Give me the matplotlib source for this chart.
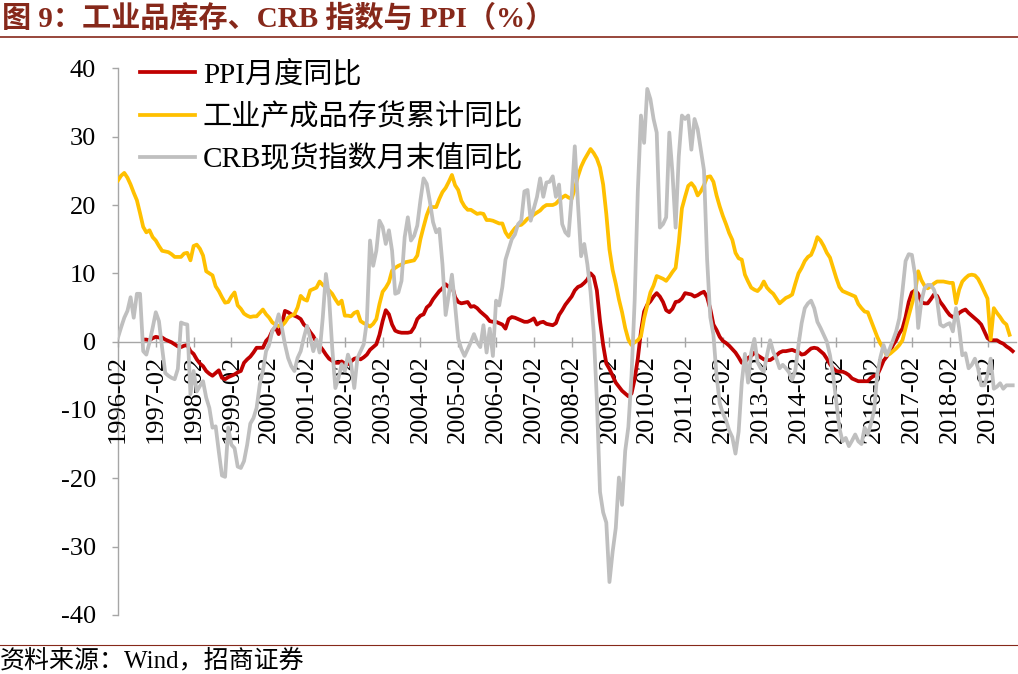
import numpy as np
import matplotlib
matplotlib.use('Agg')
import matplotlib.pyplot as plt
from matplotlib.lines import Line2D

plt.rcParams['font.family'] = ['Liberation Serif', 'Noto Sans CJK SC', 'DejaVu Sans']
plt.rcParams['axes.unicode_minus'] = False

# ---- data: monthly, starting 1996-02 ----
START_YEAR = 1996
nan = np.nan

# PPI 月度同比 (%)
ppi = [
    nan, nan, nan, nan, nan, nan, nan, nan, 0.3, 0.3, 0.2, 0.5,
    0.7, 0.6, 0.6, 0.3, 0.1, -0.1, -0.4, -0.7, -0.8, -0.6, -0.5, -1.4,
    -1.8, -2.6, -3.2, -3.6, -4.3, -4.7, -5.0, -4.6, -4.2, -5.3, -5.5, -5.2,
    -5.0, -4.8, -4.5, -4.3, -3.1, -2.6, -2.2, -1.6, -0.9, -0.9, -0.9, 0.1,
    0.6, 1.6, 2.1, 1.1, 2.5, 4.5, 4.3, 4.0, 3.8, 3.6, 3.3, 2.5,
    2.1, 1.4, 0.8, -0.1, -0.6, -1.2, -1.9, -2.5, -2.8, -3.1, -3.1, -2.9,
    -3.2, -3.3, -2.9, -2.5, -2.4, -2.6, -2.3, -1.9, -1.2, -0.8, -0.4, 1.0,
    3.0, 4.6, 4.0, 2.5, 1.6, 1.4, 1.3, 1.3, 1.3, 1.4, 2.1, 3.3,
    3.8, 4.0, 5.0, 5.4, 6.2, 6.8, 7.4, 7.8, 8.4, 8.0, 8.3, 6.5,
    5.8, 5.6, 5.7, 5.8, 5.1, 5.2, 4.9, 4.4, 4.0, 3.6, 3.0, 2.9,
    2.9, 2.7, 2.5, 1.9, 3.3, 3.6, 3.5, 3.3, 3.1, 2.9, 2.9, 3.1,
    3.4, 2.5, 2.8, 2.9, 2.6, 2.5, 2.4, 2.7, 3.9, 4.6, 5.4, 6.0,
    6.6, 7.5, 8.0, 8.2, 8.6, 9.1, 10.0, 9.5, 7.5, 3.0, -0.5, -3.2,
    -4.0, -5.0, -6.0, -6.6, -7.2, -7.6, -8.0, -7.6, -5.5, -2.5, 1.5, 4.4,
    5.4, 5.9, 6.6, 7.1, 6.6, 5.8, 4.6, 4.3, 4.8, 5.8, 5.9, 6.3,
    7.1, 7.0, 6.9, 6.6, 6.8, 7.1, 7.3, 6.5, 4.8, 2.5, 1.7, 0.7,
    0.1, -0.2, -0.6, -1.1, -1.6, -2.3, -3.1, -3.0, -2.4, -2.1, -1.6, -2.0,
    -2.3, -2.6, -2.7, -2.7, -2.4, -2.0, -1.6, -1.4, -1.4, -1.3, -1.2, -1.4,
    -1.5, -1.9, -1.8, -1.4, -1.0, -0.9, -1.0, -1.4, -1.8, -2.5, -3.3, -3.9,
    -4.3, -4.4, -4.4, -4.6, -4.9, -5.4, -5.6, -5.8, -5.8, -5.8, -5.8, -5.3,
    -5.0, -4.9, -3.9, -2.8, -2.2, -1.5, -0.5, 0.2, 1.2, 1.9, 3.6, 5.8,
    7.2, 7.5, 7.0, 5.8, 5.6, 5.6, 6.2, 6.9, 6.7, 5.8, 5.2, 4.5,
    3.9, 3.6, 3.7, 4.2, 4.5, 4.7, 4.2, 3.8, 3.4, 3.0, 2.5, 1.5,
    0.5, 0.2, 0.2, 0.2, -0.1, -0.3, -0.7, -1.0, -1.4,
]

# 工业产成品存货累计同比 (%)
inventory = [
    23.6, 24.3, 24.7, 24.0, 23.0, 21.8, 20.7, 18.8, 16.8, 16.0, 16.3, 15.3,
    14.8, 14.0, 13.3, 13.2, 13.1, 12.8, 12.4, 12.4, 12.4, 12.9, 13.0, 11.9,
    14.0, 14.2, 13.6, 12.6, 10.3, 10.0, 9.7, 8.1, 7.4, 6.5, 5.7, 5.8,
    6.6, 7.2, 5.3, 4.8, 4.1, 3.8, 3.6, 3.7, 3.7, 4.2, 4.7, 4.0,
    3.5, 2.8, 2.5, 2.3, 2.3, 2.8, 3.5, 3.8, 4.0, 5.0, 6.7, 6.2,
    6.0, 7.5, 7.7, 7.9, 8.8, 8.3, 7.9, 7.5, 7.0, 6.2, 5.5, 6.0,
    3.8, 3.8, 3.7, 4.2, 4.4, 3.0, 2.7, 2.5, 2.2, 2.6, 3.3, 5.5,
    7.3, 7.9, 8.7, 10.4, 10.8, 11.1, 11.3, 11.6, 11.7, 11.8, 11.9, 12.6,
    15.0, 16.8, 18.5, 19.7, 19.7, 19.7, 20.9, 21.9, 22.5, 23.4, 24.4, 22.9,
    22.2, 20.6, 19.8, 19.3, 19.3, 19.0, 18.7, 18.8, 18.7, 17.8, 17.8, 17.7,
    17.5, 17.3, 17.3, 16.0, 15.3, 16.0, 16.6, 17.0, 17.1, 17.5, 18.0, 18.2,
    18.6, 18.9, 19.2, 19.7, 20.0, 20.0, 20.0, 20.2, 20.7, 21.1, 21.4, 21.1,
    20.9, 22.4, 24.2, 25.6, 26.6, 27.4, 28.2, 27.6, 26.8, 25.5, 23.0, 18.7,
    13.5, 10.5, 8.5, 6.2, 4.3, 2.0, 0.3, -0.5, -0.1, 0.2, 0.8, 3.4,
    5.3, 7.2, 8.2, 9.6, 9.4, 9.2, 8.9, 9.5, 10.2, 10.8, 14.5, 19.5,
    21.2, 22.8, 23.2, 22.6, 21.4, 22.0, 22.9, 24.1, 24.2, 23.4, 21.4, 19.8,
    18.4, 17.2, 15.9, 14.9, 13.0, 12.2, 12.0, 9.8, 8.8, 7.9, 7.6, 7.4,
    7.9, 8.8, 7.9, 7.4, 7.0, 6.3, 5.6, 6.0, 6.4, 6.6, 6.9, 8.5,
    10.0, 10.8, 11.8, 12.4, 12.7, 13.8, 15.3, 14.8, 14.0, 13.0, 12.3, 10.8,
    9.3, 8.0, 7.4, 7.2, 7.0, 6.8, 6.6, 5.5, 4.9, 4.4, 4.3, 3.1,
    1.9, 0.7, -0.3, -1.0, -2.0, -1.8, -1.4, -1.0, -0.5, 0.2, 2.0, 3.8,
    5.5, 7.2, 10.3, 9.0, 8.2, 7.8, 8.1, 8.5, 8.8, 8.8, 8.8, 8.7,
    8.6, 8.6, 5.6, 7.6, 8.8, 9.3, 9.7, 9.8, 9.7, 9.2, 8.3, 7.3,
    6.3, 0.3, 4.9, 4.2, 3.6, 2.9, 2.5, 1.0,
]

# CRB 现货指数月末值同比 (%)
crb = [
    0.6, 2.1, 3.5, 4.5, 6.5, 3.5, 7.0, 7.0, -1.4, -1.9, -0.1, 2.0,
    4.3, 3.0, -0.9, -4.6, -5.0, -5.3, -5.5, -4.0, 2.8, 2.6, 2.5, -7.7,
    -4.3, -7.3, -6.5, -5.8, -8.2, -9.7, -12.6, -12.4, -16.1, -19.6, -19.8, -12.6,
    -15.1, -15.6, -18.3, -18.5, -17.5, -15.1, -12.0, -11.2, -9.7, -6.3, -4.3, -1.4,
    -0.4, 1.6, 2.3, 4.0, 2.1, -0.4, -2.4, -3.6, -4.3, -2.4, -1.4, 0.6,
    2.3, 0.6, -1.4, 0.3, -1.6, 3.5, 9.9, 6.5, -0.9, -6.8, -5.3, -3.3,
    -4.3, -1.9, -3.3, -6.8, -2.4, -1.4, -0.4, 3.0, 14.8, 11.1, 13.3, 17.7,
    16.8, 14.3, 16.3, 13.3, 7.0, 7.2, 8.9, 15.3, 18.2, 14.8, 15.5, 17.0,
    20.7, 23.9, 23.1, 20.5, 17.5, 16.0, 16.5, 11.3, 3.9, 6.8, 9.8, 5.3,
    0.4, -1.1, -2.1, -1.1, -0.1, 1.1, -0.1, -0.8, 2.4, -1.6, 1.9, -2.1,
    6.0, 5.3, 8.0, 12.0, 13.5, 15.0, 15.7, 17.2, 17.7, 22.0, 22.2, 17.7,
    19.5, 21.2, 23.9, 21.2, 23.3, 23.4, 24.2, 21.2, 23.0, 17.2, 16.0, 15.5,
    21.2, 28.6, 20.2, 12.5, 14.3, 11.3, 7.3, 1.4, -8.5, -22.0, -25.0, -26.5,
    -35.2, -30.8, -27.3, -19.9, -23.9, -16.0, -12.5, -5.0, 6.0, 22.0, 33.1, 29.1,
    37.0, 35.5, 32.6, 30.6, 16.7, 17.2, 18.2, 30.6, 24.7, 16.7, 27.1, 33.1,
    32.6, 33.1, 28.1, 32.6, 31.1, 28.1, 25.1, 12.0, 3.6, 1.0, -5.0, -9.0,
    -10.5, -11.5, -13.0, -14.0, -16.4, -13.2, -6.0, -1.8, -6.0, -1.6, 0.4, -3.0,
    -3.9, -4.4, -2.0, 0.2, -1.5, -2.5, -3.9, -3.4, -3.9, -4.5, -5.6, -4.2,
    -0.5, 2.7, 4.9, 5.6, 6.0, 4.9, 2.9, 2.0, 1.0, 0.0, -2.0, -4.9,
    -8.8, -12.7, -14.6, -14.1, -15.3, -14.5, -13.6, -14.6, -15.0, -12.6, -13.6, -12.0,
    -10.1, -4.8, -2.3, -0.5, -2.0, -1.0, 0.2, 1.5, 3.4, 7.4, 11.8, 12.8,
    12.7, 9.8, 2.0, 5.9, 7.8, 8.3, 8.3, 7.6, 6.1, 2.5, 2.2, 2.5,
    2.7, 1.5, 4.9, 2.0, -2.0, -1.7, -3.9, -3.4, -2.5, -3.9, -6.4, -6.4,
    -4.9, -2.5, -6.9, -6.6, -6.1, -6.9, -6.4, -6.4, -6.4,
]

labels = ['PPI月度同比', '工业产成品存货累计同比', 'CRB现货指数月末值同比']
colors = ['#c00000', '#ffc000', '#bfbfbf']
tick_years = list(range(1996, 2020))

TITLE_RED = '#86281a'

fig = plt.figure(figsize=(10.18, 6.74), dpi=100)
ax = fig.add_axes([0.1159, 0.0878, 0.882, 0.8107])

for y, lab, c in zip([ppi, inventory, crb], labels, colors):
    ax.plot(np.arange(len(y)), y, color=c, lw=2.7, label=lab, solid_joinstyle='round')

# spines first: set_position resets the ticks
for s in ['top', 'right']:
    ax.spines[s].set_visible(False)
ax.spines['bottom'].set_position(('data', 0))
for s in ['left', 'bottom']:
    ax.spines[s].set_color('#a6a6a6')
    ax.spines[s].set_linewidth(1.0)
    ax.spines[s].set_zorder(0.5)
ax.set_axisbelow(True)   # series run over the date labels, as in the original

ax.set_xlim(0, 285)
ax.set_ylim(-40, 40)
ax.set_yticks(range(-40, 41, 10))
ax.set_xticks([(yr - START_YEAR) * 12 for yr in tick_years])
ax.set_xticklabels(['%d-02' % yr for yr in tick_years])
ax.tick_params(axis='y', direction='out', length=4, width=1, color='#a6a6a6',
               labelsize=19, pad=12)
ax.tick_params(axis='x', direction='inout', length=7, width=1, color='#a6a6a6',
               labelsize=19, pad=6, labelrotation=90)
for t in ax.get_xticklabels():
    t.set_va('top')
    t.set_ha('center')

leg = ax.legend(loc='upper left', bbox_to_anchor=(140 / 1018, 1 - 61 / 674),
                bbox_transform=fig.transFigure, frameon=False, fontsize=21,
                handlelength=1.9, handletextpad=0.25, labelspacing=0.5,
                borderpad=0, borderaxespad=0)

# title, rules and source
fig.text(0.002, 1 - 19 / 674, '图 9：工业品库存、CRB 指数与 PPI（%）', fontsize=21,
         fontweight='bold', color=TITLE_RED, va='center', ha='left')
fig.add_artist(Line2D([0, 1], [1 - 37 / 674, 1 - 37 / 674], transform=fig.transFigure,
                      color=TITLE_RED, lw=1.2))
fig.add_artist(Line2D([0, 1], [1 - 645 / 674, 1 - 645 / 674], transform=fig.transFigure,
                      color=TITLE_RED, lw=0.8))
fig.text(0.0, 1 - 661 / 674, '资料来源：Wind，招商证券', fontsize=18, color='black',
         va='center', ha='left')

fig.savefig('out.png', dpi=100, facecolor='white')
